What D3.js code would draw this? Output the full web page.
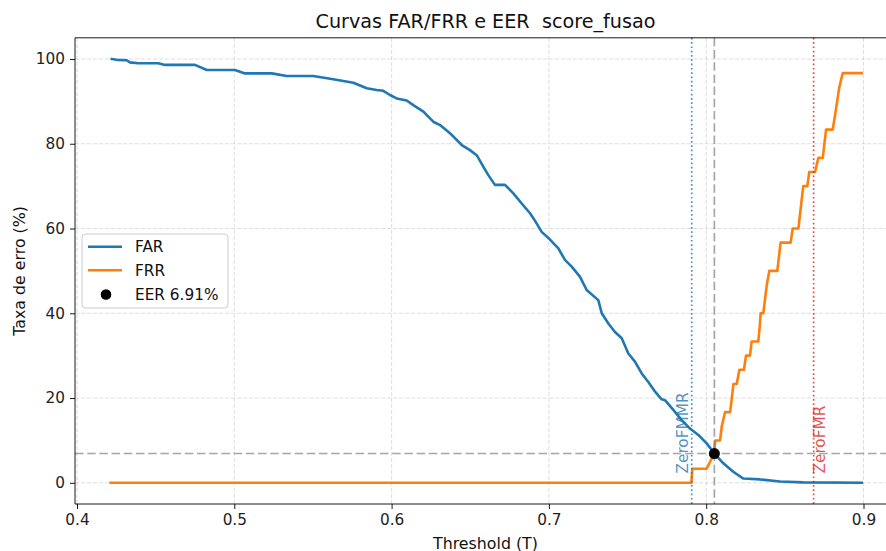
<!DOCTYPE html>
<html>
<head>
<meta charset="utf-8">
<script src="https://cdn.jsdelivr.net/npm/d3@7/dist/d3.min.js"></script>
<style>
  html, body { margin: 0; padding: 0; background: #fff; }
  svg { display: block; font-family: "DejaVu Sans", sans-serif; }
</style>
</head>
<body>
<svg id="chart" width="886" height="551"></svg>
<script>
// ---------------- data ----------------
const farT = [0.4221,0.4252,0.4316,0.4337,0.4390,0.4517,0.4559,0.4750,0.4825,0.5004,0.5068,0.5238,0.5333,0.5502,0.5629,0.5757,0.5842,0.5905,0.5947,0.5990,0.6032,0.6096,0.6138,0.6202,0.6265,0.6308,0.6371,0.6446,0.6498,0.6541,0.6583,0.6615,0.6657,0.6721,0.6774,0.6827,0.6880,0.6912,0.6954,0.7007,0.7060,0.7102,0.7145,0.7198,0.7240,0.7314,0.7336,0.7378,0.7420,0.7463,0.7505,0.7547,0.7590,0.7632,0.7675,0.7717,0.7738,0.7791,0.7844,0.7897,0.7950,0.8003,0.8052,0.8109,0.8172,0.8236,0.8342,0.8469,0.8617,0.8989];
const farV = [100,99.8,99.7,99.2,99.0,99.0,98.6,98.6,97.4,97.4,96.6,96.6,96.0,96.0,95.2,94.4,93.1,92.7,92.5,91.5,90.7,90.2,89.1,87.6,85.2,84.4,82.5,79.7,78.5,77.3,74.6,72.6,70.3,70.3,68.3,65.9,63.6,61.8,59.2,57.4,55.3,52.6,51.0,48.6,45.5,43.1,40.0,37.6,35.6,34.1,30.5,28.6,25.8,23.8,21.5,19.7,19.5,17.2,14.8,12.8,11.3,9.3,6.9,4.6,2.6,1.0,0.8,0.3,0.1,0.0];

const frrT = [0.4214,0.7906,0.7912,0.8003,0.8048,0.8058,0.8088,0.8099,0.8120,0.8152,0.8163,0.8173,0.8194,0.8211,0.8240,0.8253,0.8278,0.8289,0.8331,0.8340,0.8346,0.8363,0.8385,0.8401,0.8452,0.8473,0.8537,0.8550,0.8586,0.8617,0.8643,0.8655,0.8692,0.8713,0.8741,0.8762,0.8804,0.8819,0.8846,0.8868,0.8989];
const frrV = [0,0,3.33,3.33,6.67,10,10,13.33,16.67,16.67,20,23.33,23.33,26.67,26.67,30,30,33.33,33.33,36.67,40,40,46.67,50,50,56.67,56.67,60,60,70,70,73.33,73.33,76.67,76.67,83.33,83.33,86.67,93.33,96.67,96.67];

const eerT = 0.8052, eerV = 6.91;
const zeroFMMR_T = 0.7908;
const zeroFMR_T = 0.8683;

const xTicks = [0.4, 0.5, 0.6, 0.7, 0.8, 0.9];
const yTicks = [0, 20, 40, 60, 80, 100];
const titleText = "Curvas FAR/FRR e EER  score_fusao";
const xLabel = "Threshold (T)";
const yLabel = "Taxa de erro (%)";
const legendLabels = ["FAR", "FRR", "EER 6.91%"];

// ---------------- layout ----------------
const svg = d3.select("#chart");
const L = 75, R = 896, T = 37.8, B = 504;
const x = d3.scaleLinear().domain([0.39873, 0.92066]).range([L, R]);
const y = d3.scaleLinear().domain([-5, 105]).range([B, T]);

const C_FAR = "#1f77b4", C_FRR = "#ff7f0e", C_RED = "#d62728";

// grid
const grid = svg.append("g");
xTicks.forEach(t => grid.append("line")
  .attr("x1", x(t)).attr("x2", x(t)).attr("y1", T).attr("y2", B)
  .attr("stroke", "#b0b0b0").attr("stroke-opacity", 0.45).attr("stroke-width", 0.9)
  .attr("stroke-dasharray", "4.2,1.8"));
yTicks.forEach(t => grid.append("line")
  .attr("x1", L).attr("x2", R).attr("y1", y(t)).attr("y2", y(t))
  .attr("stroke", "#b0b0b0").attr("stroke-opacity", 0.45).attr("stroke-width", 0.9)
  .attr("stroke-dasharray", "4.2,1.8"));

const line = d3.line().x(d => x(d[0])).y(d => y(d[1]));

// FAR
svg.append("path").datum(farT.map((t, i) => [t, farV[i]]))
  .attr("d", line).attr("fill", "none").attr("stroke", C_FAR)
  .attr("stroke-width", 2.6).attr("stroke-linejoin", "round").attr("stroke-linecap", "square");
// FRR
svg.append("path").datum(frrT.map((t, i) => [t, frrV[i]]))
  .attr("d", line).attr("fill", "none").attr("stroke", C_FRR)
  .attr("stroke-width", 2.6).attr("stroke-linejoin", "round").attr("stroke-linecap", "square");

// EER reference lines
svg.append("line").attr("x1", x(eerT)).attr("x2", x(eerT)).attr("y1", T).attr("y2", B)
  .attr("stroke", "#808080").attr("stroke-opacity", 0.7).attr("stroke-width", 1.7)
  .attr("stroke-dasharray", "8.5,3.7");
svg.append("line").attr("x1", L).attr("x2", R).attr("y1", y(eerV)).attr("y2", y(eerV))
  .attr("stroke", "#808080").attr("stroke-opacity", 0.7).attr("stroke-width", 1.7)
  .attr("stroke-dasharray", "8.5,3.7");

// ZeroFMMR / ZeroFMR lines
svg.append("line").attr("x1", x(zeroFMMR_T)).attr("x2", x(zeroFMMR_T)).attr("y1", T).attr("y2", B)
  .attr("stroke", C_FAR).attr("stroke-opacity", 0.8).attr("stroke-width", 1.7)
  .attr("stroke-dasharray", "1.7,2.6");
svg.append("line").attr("x1", x(zeroFMR_T)).attr("x2", x(zeroFMR_T)).attr("y1", T).attr("y2", B)
  .attr("stroke", C_RED).attr("stroke-opacity", 0.8).attr("stroke-width", 1.7)
  .attr("stroke-dasharray", "1.7,2.6");

svg.append("text").text("ZeroFMMR")
  .attr("transform", `translate(${x(zeroFMMR_T) - 3.5},${y(2.2)}) rotate(-90)`)
  .attr("font-size", 15.3).attr("fill", C_FAR).attr("fill-opacity", 0.8);
svg.append("text").text("ZeroFMR")
  .attr("transform", `translate(${x(zeroFMR_T) + 11.5},${y(2.2)}) rotate(-90)`)
  .attr("font-size", 15.3).attr("fill", C_RED).attr("fill-opacity", 0.8);

// EER point
svg.append("circle").attr("cx", x(eerT)).attr("cy", y(eerV)).attr("r", 5.5).attr("fill", "#000");

// spines
svg.append("line").attr("x1", L).attr("x2", L).attr("y1", T).attr("y2", B).attr("stroke", "#000").attr("stroke-width", 0.9);
svg.append("line").attr("x1", L).attr("x2", R).attr("y1", B).attr("y2", B).attr("stroke", "#000").attr("stroke-width", 0.9);
svg.append("line").attr("x1", L).attr("x2", R).attr("y1", T).attr("y2", T).attr("stroke", "#000").attr("stroke-width", 0.9);
svg.append("line").attr("x1", R).attr("x2", R).attr("y1", T).attr("y2", B).attr("stroke", "#000").attr("stroke-width", 0.9);

// axes
const xAxis = d3.axisBottom(x).tickValues(xTicks).tickSize(5).tickPadding(5).tickFormat(d3.format(".1f"));
const yAxis = d3.axisLeft(y).tickValues(yTicks).tickSize(5).tickPadding(5).tickFormat(d3.format("d"));
const gx = svg.append("g").attr("transform", `translate(0,${B})`).call(xAxis);
const gy = svg.append("g").attr("transform", `translate(${L},0)`).call(yAxis);
[gx, gy].forEach(g => {
  g.select(".domain").remove();
  g.selectAll(".tick line").attr("stroke", "#000").attr("stroke-width", 0.9);
  g.selectAll(".tick text").attr("font-size", 15.3).attr("fill", "#222").attr("font-family", "DejaVu Sans");
});

// labels
svg.append("text").text(titleText).attr("x", (L + R) / 2).attr("y", 28)
  .attr("text-anchor", "middle").attr("font-size", 19.2).attr("fill", "#111")
  .style("white-space", "pre").attr("xml:space", "preserve");
svg.append("text").text(xLabel).attr("x", (L + R) / 2).attr("y", 548.5)
  .attr("text-anchor", "middle").attr("font-size", 15.8).attr("fill", "#111");
svg.append("text").text(yLabel)
  .attr("transform", `translate(24.5,${(T + B) / 2}) rotate(-90)`)
  .attr("text-anchor", "middle").attr("font-size", 15.8).attr("fill", "#111");

// legend
const lg = svg.append("g");
lg.append("rect").attr("x", 82).attr("y", 234).attr("width", 146).attr("height", 74)
  .attr("rx", 3.5).attr("fill", "#fff").attr("fill-opacity", 0.8)
  .attr("stroke", "#cccccc").attr("stroke-width", 1);
const rows = [246.7, 270.2, 294.5];
lg.append("line").attr("x1", 88).attr("x2", 122).attr("y1", rows[0]).attr("y2", rows[0]).attr("stroke", C_FAR).attr("stroke-width", 2.6);
lg.append("line").attr("x1", 88).attr("x2", 122).attr("y1", rows[1]).attr("y2", rows[1]).attr("stroke", C_FRR).attr("stroke-width", 2.6);
lg.append("circle").attr("cx", 106).attr("cy", rows[2]).attr("r", 5.3).attr("fill", "#000");
legendLabels.forEach((t, i) => lg.append("text").text(t)
  .attr("x", 135).attr("y", rows[i] + 5.6).attr("font-size", 15.3).attr("fill", "#111"));
</script>
</body>
</html>
